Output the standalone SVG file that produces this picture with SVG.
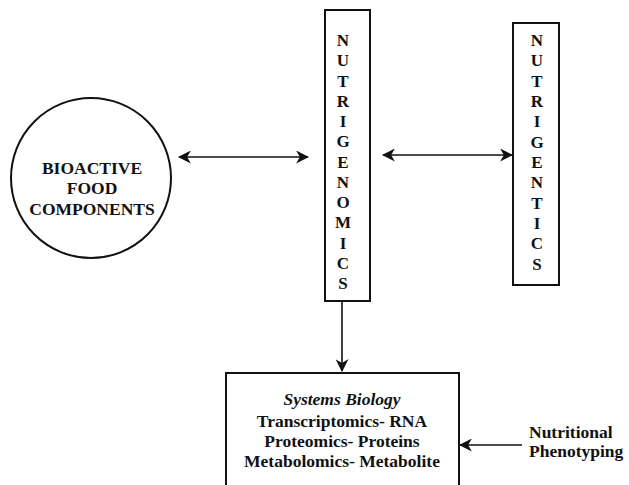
<svg xmlns="http://www.w3.org/2000/svg" width="629" height="485" viewBox="0 0 629 485">
<style>
.t{font-family:"Liberation Serif","Times New Roman",serif;font-weight:bold;font-size:17.5px;fill:#111}
.v{font-family:"Liberation Serif","Times New Roman",serif;font-weight:bold;font-size:17px;fill:#111;text-anchor:middle}
.box{fill:#fff;stroke:#111;stroke-width:2}
.ln{stroke:#111;stroke-width:1.6;fill:none}
</style>
<defs>
<marker id="ah" viewBox="0 0 12 12" refX="11" refY="6" markerWidth="13" markerHeight="13" markerUnits="userSpaceOnUse" orient="auto-start-reverse">
<path d="M0,0 L12,6 L0,12 L3.5,6 z" fill="#111"/>
</marker>
</defs>
<rect width="629" height="485" fill="#fff"/>
<g id="connectors">
<line class="ln" x1="179" y1="157" x2="308" y2="157" marker-start="url(#ah)" marker-end="url(#ah)"/>
<line class="ln" x1="383" y1="155" x2="512" y2="155" marker-start="url(#ah)" marker-end="url(#ah)"/>
<line class="ln" x1="342" y1="301" x2="342" y2="371" marker-end="url(#ah)"/>
<line class="ln" x1="522" y1="445" x2="460" y2="445" marker-end="url(#ah)"/>
</g>
<g id="bioactive">
<circle class="box" cx="91" cy="178" r="80"/>
<text class="t" text-anchor="middle" x="92" y="174">BIOACTIVE</text>
<text class="t" text-anchor="middle" x="92" y="194">FOOD</text>
<text class="t" text-anchor="middle" x="92" y="215">COMPONENTS</text>
</g>
<g id="nutrigenomics">
<rect class="box" x="325" y="10" width="45" height="291"/>
<text class="v" x="343" y="46">N</text>
<text class="v" x="343" y="66">U</text>
<text class="v" x="343" y="87">T</text>
<text class="v" x="343" y="107">R</text>
<text class="v" x="343" y="127">I</text>
<text class="v" x="343" y="147">G</text>
<text class="v" x="343" y="168">E</text>
<text class="v" x="343" y="188">N</text>
<text class="v" x="343" y="208">O</text>
<text class="v" x="343" y="228">M</text>
<text class="v" x="343" y="249">I</text>
<text class="v" x="343" y="269">C</text>
<text class="v" x="343" y="289">S</text>
</g>
<g id="nutrigenetics">
<rect class="box" x="513" y="23" width="46" height="262"/>
<text class="v" x="537" y="46">N</text>
<text class="v" x="537" y="66">U</text>
<text class="v" x="537" y="87">T</text>
<text class="v" x="537" y="107">R</text>
<text class="v" x="537" y="127">I</text>
<text class="v" x="537" y="148">G</text>
<text class="v" x="537" y="168">E</text>
<text class="v" x="537" y="188">N</text>
<text class="v" x="537" y="209">T</text>
<text class="v" x="537" y="229">I</text>
<text class="v" x="537" y="249">C</text>
<text class="v" x="537" y="270">S</text>
</g>
<g id="systems">
<rect class="box" x="226" y="373" width="233" height="125"/>
<text class="t" text-anchor="middle" x="342" y="405" font-style="italic" font-weight="normal">Systems Biology</text>
<text class="t" text-anchor="middle" x="342" y="427">Transcriptomics- RNA</text>
<text class="t" text-anchor="middle" x="342" y="447">Proteomics- Proteins</text>
<text class="t" text-anchor="middle" x="342" y="467">Metabolomics- Metabolite</text>
</g>
<g id="phenotyping">
<text class="t" x="529" y="438">Nutritional</text>
<text class="t" x="529" y="457">Phenotyping</text>
</g>
</svg>
